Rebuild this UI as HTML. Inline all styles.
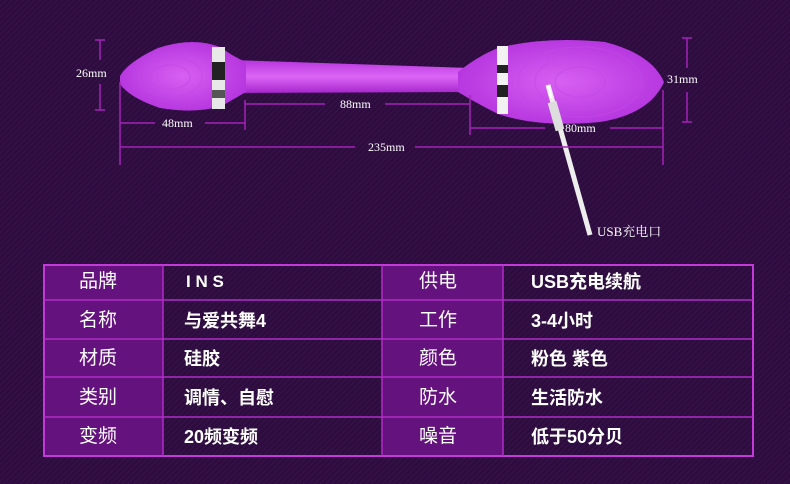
<!DOCTYPE html>
<html><head><meta charset="utf-8"><style>
body{margin:0;width:790px;height:484px;overflow:hidden;background:#2d0c3e;font-family:"Liberation Sans","Noto Sans CJK SC",sans-serif}
svg{position:absolute;left:0;top:0}
.t{position:absolute;color:#fff;font-size:18px;font-weight:bold;line-height:1}
.l{font-size:19px;font-weight:normal}
</style></head><body>
<svg width="790" height="484">
<defs>
<pattern id="st" width="4" height="4" patternUnits="userSpaceOnUse" patternTransform="rotate(45)"><rect width="4" height="4" fill="#2d0c3e"/><rect width="1" height="4" fill="#38124c"/></pattern>
<linearGradient id="pg" x1="0" y1="0" x2="0" y2="1"><stop offset="0" stop-color="#b534dc"/><stop offset=".5" stop-color="#dc66f6"/><stop offset="1" stop-color="#a626cc"/></linearGradient>
<radialGradient id="rb" cx=".5" cy=".5" r=".6"><stop offset="0" stop-color="#d860f2"/><stop offset="1" stop-color="#b030dc"/></radialGradient>
</defs>
<rect width="790" height="484" fill="url(#st)"/>
<!-- device -->
<path d="M232,60 L470,68 L470,92 L232,93 Z" fill="url(#pg)"/>
<path d="M120,76 Q128,62 158,48 Q195,36 222,48 Q232,56 246,62 L246,92 Q232,100 222,106 Q195,114 160,108 Q130,98 120,84 Z" fill="url(#rb)"/>
<path d="M458,72 Q478,56 498,48 Q545,36 605,42 Q652,54 664,82 Q650,114 600,122 Q540,128 498,114 Q478,104 458,92 Z" fill="url(#rb)"/>
<g fill="none" stroke="#c24ae6" stroke-width="1.2" opacity=".6">
<ellipse cx="170" cy="77" rx="20" ry="12"/><ellipse cx="170" cy="77" rx="32" ry="20"/>
<ellipse cx="580" cy="82" rx="25" ry="15"/><ellipse cx="580" cy="82" rx="45" ry="27"/><ellipse cx="580" cy="82" rx="62" ry="35"/>
</g>
<rect x="212" y="47" width="13" height="62" fill="#e8e8e8"/><rect x="212" y="62" width="13" height="18" fill="#222"/><rect x="212" y="90" width="13" height="8" fill="#555"/>
<rect x="497" y="46" width="11" height="68" fill="#f2f2f2"/><rect x="497" y="65" width="11" height="8" fill="#222"/><rect x="497" y="85" width="11" height="12" fill="#222"/>
<line x1="548" y1="85" x2="590" y2="235" stroke="#eee" stroke-width="5"/>
<line x1="548" y1="85" x2="551" y2="98" stroke="#fff" stroke-width="3"/>
<line x1="552" y1="102" x2="560" y2="130" stroke="#ddd" stroke-width="9"/>
<!-- dims -->
<g stroke="#a422b8" stroke-width="1.5" fill="none">
<line x1="100" y1="40" x2="100" y2="60"/><line x1="100" y1="84" x2="100" y2="110"/><line x1="95" y1="40" x2="105" y2="40"/><line x1="95" y1="110" x2="105" y2="110"/>
<line x1="687" y1="38" x2="687" y2="68"/><line x1="687" y1="92" x2="687" y2="122"/><line x1="682" y1="38" x2="692" y2="38"/><line x1="682" y1="122" x2="692" y2="122"/>
<line x1="120" y1="82" x2="120" y2="165"/><line x1="245" y1="100" x2="245" y2="130"/><line x1="470" y1="95" x2="470" y2="135"/><line x1="663" y1="90" x2="663" y2="165"/>
<line x1="120" y1="123" x2="155" y2="123"/><line x1="205" y1="123" x2="245" y2="123"/>
<line x1="245" y1="104" x2="325" y2="104"/><line x1="385" y1="104" x2="470" y2="104"/>
<line x1="470" y1="128" x2="545" y2="128"/><line x1="610" y1="128" x2="663" y2="128"/>
<line x1="120" y1="147" x2="355" y2="147"/><line x1="415" y1="147" x2="663" y2="147"/>
</g>
<g fill="#fff" font-family="Liberation Serif,serif" font-size="12">
<text x="76" y="77">26mm</text><text x="667" y="83">31mm</text><text x="162" y="127">48mm</text><text x="340" y="108">88mm</text><text x="565" y="132">80mm</text><text x="368" y="151">235mm</text>
<text x="597" y="236" font-family="Liberation Serif,'Noto Serif CJK SC',serif" font-size="13">USB充电口</text>
</g>
<!-- table -->
<rect x="44" y="265" width="709" height="191" fill="none" stroke="#c43ad8" stroke-width="2"/>
<rect x="45" y="266" width="118" height="189" fill="#6a1384" opacity=".9"/>
<rect x="382" y="266" width="121" height="189" fill="#6a1384" opacity=".9"/>
<g stroke="#b02cc8" stroke-width="1.5">
<line x1="163" y1="265" x2="163" y2="456"/><line x1="382" y1="265" x2="382" y2="456"/><line x1="503" y1="265" x2="503" y2="456"/>
<line x1="44" y1="300" x2="753" y2="300"/><line x1="44" y1="339" x2="753" y2="339"/><line x1="44" y1="377" x2="753" y2="377"/><line x1="44" y1="417" x2="753" y2="417"/>
</g>
</svg>
<div class="t l" style="left:79px;top:272px">品牌</div>
<div class="t l" style="left:79px;top:311px">名称</div>
<div class="t l" style="left:79px;top:349px">材质</div>
<div class="t l" style="left:79px;top:388px">类别</div>
<div class="t l" style="left:79px;top:427px">变频</div>
<div class="t" style="left:186px;top:273px;font-size:17px">I N S</div>
<div class="t" style="left:184px;top:312px">与爱共舞4</div>
<div class="t" style="left:184px;top:350px">硅胶</div>
<div class="t" style="left:184px;top:389px">调情、自慰</div>
<div class="t" style="left:184px;top:428px">20频变频</div>
<div class="t l" style="left:419px;top:272px">供电</div>
<div class="t l" style="left:419px;top:311px">工作</div>
<div class="t l" style="left:419px;top:349px">颜色</div>
<div class="t l" style="left:419px;top:388px">防水</div>
<div class="t l" style="left:419px;top:427px">噪音</div>
<div class="t" style="left:531px;top:273px">USB充电续航</div>
<div class="t" style="left:531px;top:312px">3-4小时</div>
<div class="t" style="left:531px;top:350px">粉色 紫色</div>
<div class="t" style="left:531px;top:389px">生活防水</div>
<div class="t" style="left:531px;top:428px">低于50分贝</div>
</body></html>
